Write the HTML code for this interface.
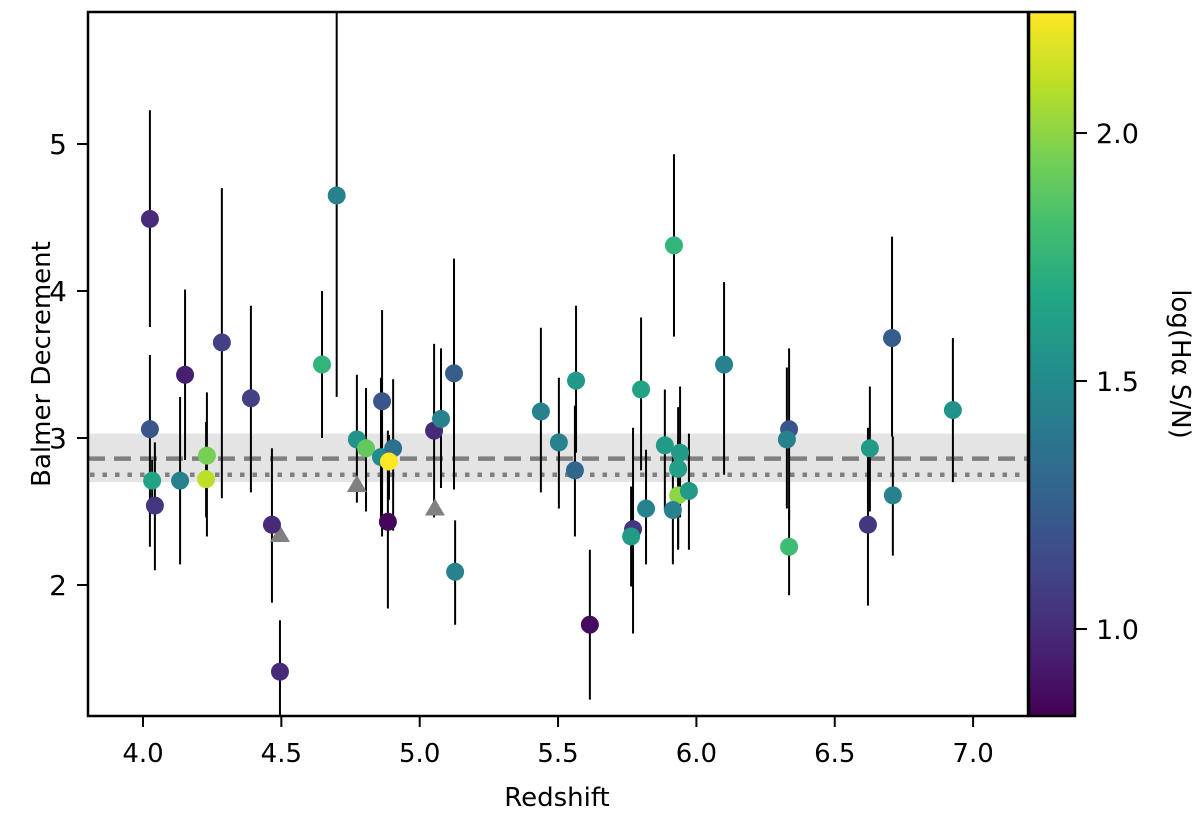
<!DOCTYPE html>
<html><head><meta charset="utf-8"><style>
body{margin:0;background:#fff;}
svg text{font-family:"DejaVu Sans","Liberation Sans",sans-serif;fill:#000;}
</style></head><body>
<svg id="chart" width="1200" height="815" viewBox="0 0 1200 815" xmlns="http://www.w3.org/2000/svg">
<defs>
<linearGradient id="viridis" x1="0" y1="1" x2="0" y2="0">
<stop offset="0" stop-color="#440154"/><stop offset="0.1" stop-color="#482475"/><stop offset="0.2" stop-color="#414487"/>
<stop offset="0.3" stop-color="#355f8d"/><stop offset="0.4" stop-color="#2a788e"/><stop offset="0.5" stop-color="#21918c"/>
<stop offset="0.6" stop-color="#22a884"/><stop offset="0.7" stop-color="#44bf70"/><stop offset="0.8" stop-color="#7ad151"/>
<stop offset="0.9" stop-color="#bddf26"/><stop offset="1" stop-color="#fde725"/>
</linearGradient>
<clipPath id="plotclip"><rect x="88" y="12" width="940" height="704"/></clipPath>
</defs>
<g id="bg" clip-path="url(#plotclip)"></g>
<g id="marks" clip-path="url(#plotclip)"></g>
<rect x="88" y="12" width="940" height="704" fill="none" stroke="#000" stroke-width="2.5"/>
<g id="axes"></g>
<rect x="1029" y="12" width="46" height="704" fill="url(#viridis)" stroke="#000" stroke-width="2.5"/>
<text x="557" y="806" font-size="26" text-anchor="middle">Redshift</text>
<text transform="translate(50,364) rotate(-90)" font-size="26" text-anchor="middle">Balmer Decrement</text>
<text transform="translate(1172,364) rotate(90)" font-size="26" text-anchor="middle">log(Hα S/N)</text>
</svg>
<script>
const redshift=[4.025,4.025,4.033,4.043,4.152,4.134,4.231,4.228,4.285,4.39,4.466,4.495,4.647,4.70,4.773,4.806,4.864,4.86,4.904,4.889,4.885,5.052,5.077,5.124,5.128,5.438,5.503,5.565,5.561,5.80,5.615,5.886,5.941,5.934,5.934,5.973,5.818,5.915,5.771,5.764,6.335,6.327,6.335,6.627,6.62,6.71,6.927,5.919,6.10,6.707];
const balmer=[4.49,3.06,2.71,2.54,3.43,2.71,2.88,2.72,3.65,3.27,2.41,1.41,3.50,4.65,2.99,2.93,3.25,2.87,2.93,2.84,2.43,3.05,3.13,3.44,2.09,3.18,2.97,3.39,2.78,3.33,1.73,2.95,2.90,2.79,2.61,2.64,2.52,2.51,2.38,2.33,3.06,2.99,2.26,2.93,2.41,2.61,3.19,4.31,3.50,3.68];
const errHigh=[5.23,3.565,2.85,2.97,4.01,3.28,3.31,3.11,4.70,3.90,2.93,1.76,4.00,6.2,3.43,3.34,3.87,3.41,3.40,3.02,3.05,3.64,3.61,4.22,2.44,3.75,3.41,3.90,3.22,3.82,2.24,3.33,3.35,3.21,2.99,3.03,2.92,2.92,3.07,2.67,3.61,3.48,2.51,3.35,3.07,3.01,3.68,4.93,4.06,4.37];
const errLow=[3.755,2.26,2.54,2.10,2.85,2.14,2.33,2.46,2.59,2.63,1.88,1.09,3.00,3.28,2.56,2.50,2.33,2.44,2.37,2.58,1.84,2.46,2.66,2.65,1.73,2.63,2.52,2.90,2.33,2.78,1.22,2.51,2.46,2.25,2.24,2.24,2.14,2.14,1.67,1.99,2.44,2.52,1.93,2.50,1.86,2.20,2.70,3.69,2.75,3.01];
const logSN=[1.0,1.2,1.65,1.05,0.95,1.45,1.95,2.1,1.1,1.1,1.0,1.0,1.75,1.45,1.55,1.9,1.2,1.5,1.35,2.25,0.85,1.0,1.45,1.25,1.45,1.45,1.45,1.6,1.3,1.65,0.87,1.6,1.6,1.62,2.0,1.6,1.45,1.45,1.05,1.6,1.2,1.45,1.8,1.6,1.05,1.45,1.55,1.75,1.45,1.25];
const triRedshift=[4.495,4.773,5.055];
const triBalmer=[2.34,2.68,2.52];
const xTicks=[4.0,4.5,5.0,5.5,6.0,6.5,7.0];
const yTicks=[2,3,4,5];
const cTicks=[1.0,1.5,2.0];
const medianLine=2.86, caseBLine=2.75, bandLow=2.70, bandHigh=3.03;

const NS="http://www.w3.org/2000/svg";
const X=z=>143+(z-4)*276.7;
const Y=v=>438-(v-3)*147;
const CY=c=>133+(2.0-c)*496;
const cmin=0.829,cmax=2.244;
const vir=["#440154","#482475","#414487","#355f8d","#2a788e","#21918c","#22a884","#44bf70","#7ad151","#bddf26","#fde725"];
function hex(h){return [1,3,5].map(i=>parseInt(h.substr(i,2),16));}
function color(c){let t=Math.max(0,Math.min(1,(c-cmin)/(cmax-cmin)))*10;let i=Math.min(9,Math.floor(t)),f=t-i;
 const a=hex(vir[i]),b=hex(vir[i+1]);return "rgb("+a.map((v,k)=>Math.round(v+(b[k]-v)*f)).join(",")+")";}
function mk(tag,attrs,parent){const e=document.createElementNS(NS,tag);for(const k in attrs)e.setAttribute(k,attrs[k]);parent.appendChild(e);return e;}
const bg=document.getElementById('bg'),marks=document.getElementById('marks'),axes=document.getElementById('axes');

let band=mk('rect',{x:88,y:Y(bandHigh),width:940,height:Y(bandLow)-Y(bandHigh),fill:'#e5e4e5'},bg);


let dl=mk('line',{x1:88,x2:1028,y1:Y(medianLine),y2:Y(medianLine),stroke:'#808080','stroke-width':4.5,'stroke-dasharray':'17 9'},bg);


let dt=mk('line',{x1:90,x2:1028,y1:Y(caseBLine),y2:Y(caseBLine),stroke:'#808080','stroke-width':4.5,'stroke-dasharray':'4.5 8'},bg);



for(let i=0;i<redshift.length;i++){
 let e=mk('line',{x1:X(redshift[i]),x2:X(redshift[i]),y1:Y(errHigh[i]),y2:Y(errLow[i]),stroke:'#000','stroke-width':2},marks);
 
 
}
for(let i=0;i<triRedshift.length;i++){
 const x=X(triRedshift[i]),y=Y(triBalmer[i]);
 let t=mk('polygon',{points:`${x},${y-10} ${x-10},${y+7} ${x+10},${y+7}`,fill:'#808080'},marks);
 
 
}
for(let i=0;i<redshift.length;i++){
 let p=mk('circle',{cx:X(redshift[i]),cy:Y(balmer[i]),r:9,fill:color(logSN[i])},marks);
 
 
}
xTicks.forEach(v=>{
 let t=mk('line',{x1:X(v),x2:X(v),y1:716,y2:727,stroke:'#000','stroke-width':2},axes);
 
 
 let l=mk('text',{x:X(v),y:762,'font-size':26,'text-anchor':'middle'},axes);l.textContent=v.toFixed(1);
 
 
});
yTicks.forEach(v=>{
 let t=mk('line',{x1:77,x2:88,y1:Y(v),y2:Y(v),stroke:'#000','stroke-width':2},axes);
 
 
 let l=mk('text',{x:67,y:Y(v)+10,'font-size':28,'text-anchor':'end'},axes);l.textContent=String(v);
 
 
});
cTicks.forEach(v=>{
 let t=mk('line',{x1:1075,x2:1087,y1:CY(v),y2:CY(v),stroke:'#000','stroke-width':2},axes);
 
 
 let l=mk('text',{x:1096,y:CY(v)+10,'font-size':27,'text-anchor':'start'},axes);l.textContent=v.toFixed(1);
 
 
});
</script>
</body></html>
